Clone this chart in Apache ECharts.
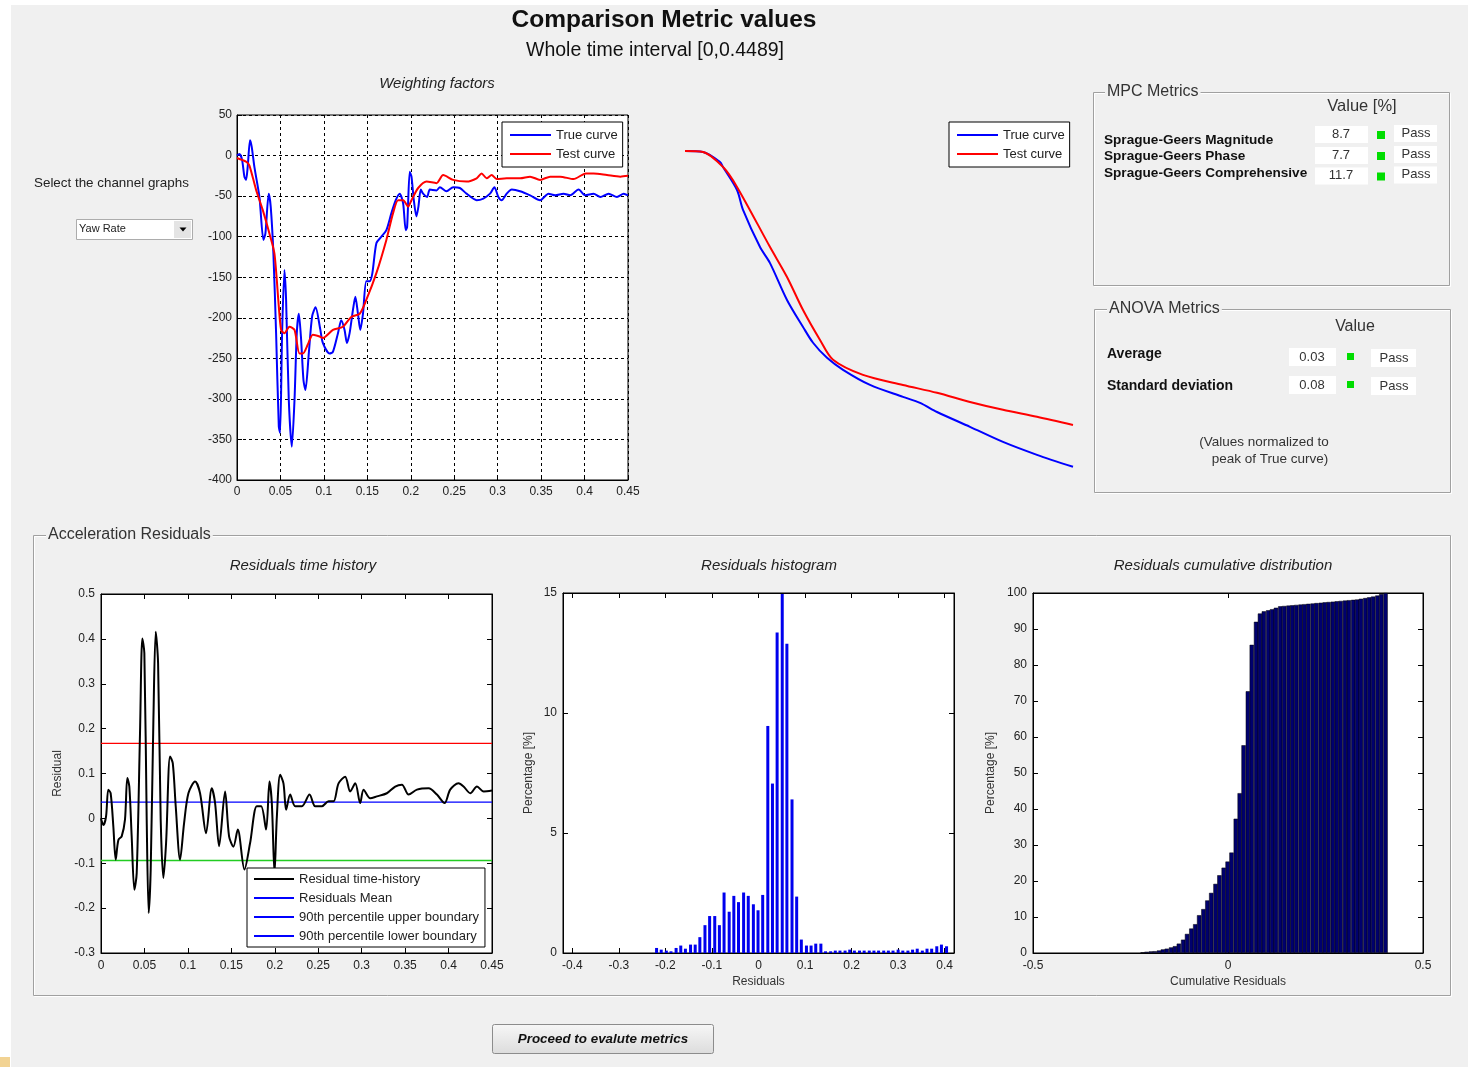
<!DOCTYPE html>
<html>
<head>
<meta charset="utf-8">
<script src="https://cdn.jsdelivr.net/npm/echarts@6/dist/echarts.min.js"></script>
<style>
html,body{margin:0;padding:0;background:#fff;}
#c{width:1468px;height:1067px;}
</style>
</head>
<body>
<div id="c"></div>
<script>
// ---------------- DATA ----------------
const timeTicksMax = 0.45;
// Yaw rate (Weighting factors chart): [time, value]
const trueCurve = [[0,0],[0.0027,2],[0.0058,-5],[0.0085,-26],[0.0104,-30],[0.0123,-14],[0.015,19],[0.0169,11],[0.02,-14],[0.0258,-51],[0.0304,-104],[0.0327,-96],[0.0365,-47],[0.0388,-63],[0.0419,-121],[0.045,-219],[0.0481,-334],[0.0496,-342],[0.0519,-219],[0.0546,-141],[0.0565,-178],[0.0596,-301],[0.0631,-359],[0.0662,-301],[0.0688,-219],[0.0712,-195],[0.0738,-227],[0.0765,-277],[0.0788,-289],[0.0827,-243],[0.0865,-198],[0.0904,-187],[0.0958,-214],[0.0988,-231],[0.1065,-244],[0.1104,-242],[0.1162,-219],[0.12,-203],[0.1238,-215],[0.1265,-231],[0.1296,-219],[0.1335,-190],[0.1362,-174],[0.1392,-195],[0.1419,-215],[0.145,-195],[0.1488,-155],[0.1527,-155],[0.1558,-145],[0.1604,-108],[0.1662,-100],[0.1719,-92],[0.1777,-71],[0.1827,-55],[0.1873,-47],[0.1912,-59],[0.1942,-92],[0.1958,-88],[0.1988,-20],[0.2008,-26],[0.2035,-55],[0.2065,-75],[0.2088,-63],[0.2115,-42],[0.2142,-47],[0.2188,-51],[0.2219,-42],[0.2296,-43],[0.2335,-39],[0.2412,-44],[0.2488,-39],[0.2565,-40],[0.2642,-47],[0.2758,-55],[0.2835,-53],[0.2912,-47],[0.2962,-39],[0.3008,-51],[0.3046,-55],[0.3104,-47],[0.3162,-42],[0.3258,-44],[0.3373,-49],[0.3488,-55],[0.3585,-47],[0.3662,-49],[0.3758,-47],[0.3835,-49],[0.3931,-42],[0.4008,-49],[0.4104,-47],[0.4181,-51],[0.4277,-47],[0.4373,-51],[0.445,-47],[0.45,-49]];
const testCurve = [[0,-3],[0.0104,-7.5],[0.0142,-12],[0.0219,-42],[0.0296,-67],[0.0373,-96],[0.0431,-121],[0.0481,-186],[0.0508,-215],[0.0546,-219],[0.0604,-211],[0.0662,-215],[0.0719,-244],[0.0758,-244],[0.0815,-233],[0.0873,-221],[0.095,-223],[0.0988,-225],[0.1104,-215],[0.1219,-211],[0.1315,-199],[0.1412,-195],[0.1488,-178],[0.1604,-145],[0.1719,-104],[0.1796,-71],[0.1854,-55],[0.1912,-55],[0.1969,-63],[0.2008,-55],[0.2085,-40],[0.2181,-32],[0.2296,-34],[0.2373,-24],[0.2488,-30],[0.2642,-32],[0.2758,-28],[0.2815,-22],[0.2873,-28],[0.2931,-24],[0.2988,-29],[0.3104,-28],[0.3258,-28],[0.3373,-26],[0.3488,-30],[0.3604,-26],[0.3719,-26],[0.3873,-29],[0.4015,-22],[0.4104,-22],[0.4258,-24],[0.4412,-26],[0.45,-25]];
// Integrated curves (unlabelled chart)
const trueIntegral = [[0,0],[0.0209,-0.3],[0.0406,-3.5],[0.0441,-5.1],[0.0603,-12.4],[0.0673,-18.7],[0.087,-30.5],[0.0986,-35.6],[0.1183,-47.3],[0.1369,-55.9],[0.1485,-60.9],[0.1647,-65.7],[0.1833,-69.5],[0.2146,-74.3],[0.2528,-78.1],[0.2726,-80.0],[0.2923,-82.9],[0.3305,-87.6],[0.3688,-92.4],[0.4082,-96.5],[0.45,-100.3]];
const testIntegral = [[0,0],[0.0209,-0.3],[0.0441,-5.1],[0.0603,-11.4],[0.0986,-30.5],[0.1183,-40],[0.1369,-50.5],[0.1566,-60],[0.1717,-66.3],[0.2064,-71.1],[0.2528,-74.3],[0.2923,-76.8],[0.3305,-79.7],[0.3688,-82.2],[0.4082,-84.4],[0.45,-87.0]];
// Residual time history
const residual = [[0,0.0],[0.0027,-0.015],[0.0058,0.004],[0.0084,0.064],[0.0111,0.056],[0.0142,-0.018],[0.0169,-0.092],[0.02,-0.048],[0.0238,-0.04],[0.0276,-0.003],[0.0303,0.09],[0.0326,0.071],[0.0353,-0.04],[0.0384,-0.159],[0.0411,-0.122],[0.0449,0.19],[0.0476,0.401],[0.0499,0.368],[0.0526,-0.003],[0.0549,-0.211],[0.0572,-0.114],[0.0603,0.219],[0.063,0.416],[0.0657,0.346],[0.0687,-0.003],[0.0718,-0.133],[0.0749,-0.055],[0.0795,0.138],[0.0826,0.123],[0.086,0.027],[0.091,-0.092],[0.0956,-0.011],[0.1006,0.056],[0.1083,0.082],[0.114,0.056],[0.1209,-0.033],[0.1275,0.067],[0.1313,0.034],[0.1359,-0.062],[0.1428,0.06],[0.1474,-0.04],[0.1524,-0.063],[0.1574,-0.025],[0.1651,-0.114],[0.1716,-0.055],[0.1793,0.027],[0.1843,0.027],[0.19,-0.025],[0.1939,0.082],[0.1966,0.034],[0.1997,-0.122],[0.2024,0.004],[0.2062,0.097],[0.21,0.078],[0.2131,0.019],[0.2177,0.053],[0.2235,0.027],[0.2312,0.027],[0.24,0.053],[0.2465,0.027],[0.2542,0.027],[0.2619,0.038],[0.2676,0.038],[0.2734,0.078],[0.281,0.093],[0.2868,0.06],[0.2926,0.078],[0.2983,0.034],[0.3022,0.064],[0.3098,0.045],[0.3175,0.049],[0.329,0.056],[0.3386,0.071],[0.3463,0.075],[0.354,0.053],[0.3636,0.064],[0.377,0.067],[0.3866,0.053],[0.3954,0.034],[0.4019,0.064],[0.4115,0.078],[0.4173,0.071],[0.425,0.056],[0.4327,0.071],[0.4404,0.06],[0.45,0.062]];
const residualMean = 0.036;
const upperBoundary = 0.167;
const lowerBoundary = -0.094;
// Histogram
const binCenters = [-0.219,-0.209,-0.198,-0.188,-0.177,-0.167,-0.157,-0.146,-0.136,-0.126,-0.115,-0.105,-0.094,-0.084,-0.074,-0.063,-0.053,-0.043,-0.032,-0.022,-0.011,-0.001,0.009,0.020,0.030,0.040,0.051,0.061,0.072,0.082,0.092,0.103,0.113,0.123,0.134,0.144,0.155,0.165,0.175,0.186,0.196,0.206,0.217,0.227,0.238,0.248,0.258,0.269,0.279,0.289,0.300,0.310,0.321,0.331,0.341,0.352,0.362,0.372,0.383,0.393,0.404];
const histPercent = [0.21,0.14,0.10,0.07,0.21,0.31,0.18,0.35,0.35,0.66,1.16,1.54,1.54,1.16,2.52,1.72,2.38,2.12,2.52,2.38,2.03,1.78,2.42,9.46,7.06,13.35,14.96,12.89,6.40,2.35,0.56,0.31,0.31,0.39,0.39,0.07,0.07,0.10,0.10,0.10,0.14,0.10,0.10,0.10,0.10,0.10,0.10,0.10,0.10,0.10,0.14,0.10,0.10,0.14,0.18,0.10,0.18,0.18,0.28,0.35,0.28];
const cumPercent = [0.2,0.35,0.45,0.5,0.7,1.0,1.2,1.55,1.9,2.6,3.7,5.3,6.8,8.0,10.5,12.2,14.6,16.7,19.2,21.6,23.7,25.4,27.9,37.3,44.4,57.7,72.7,85.6,92.0,94.3,94.9,95.2,95.5,95.9,96.3,96.4,96.5,96.6,96.7,96.8,96.9,97.0,97.1,97.2,97.3,97.4,97.5,97.6,97.7,97.8,97.9,98.0,98.1,98.2,98.4,98.6,98.8,99.0,99.3,99.7,100];
const histTicks = [-0.4,-0.3,-0.2,-0.1,0,0.1,0.2,0.3,0.4];
// Metrics tables
const mpcNames = ['Sprague-Geers Magnitude','Sprague-Geers Phase','Sprague-Geers Comprehensive'];
const mpcValues = ['8.7','7.7','11.7'];
const mpcStatus = ['Pass','Pass','Pass'];
const anovaNames = ['Average','Standard deviation'];
const anovaValues = ['0.03','0.08'];
const anovaStatus = ['Pass','Pass'];

// ---------------- LAYOUT HELPERS ----------------
const FF = '"Liberation Sans", Arial, sans-serif';
const G = [];
function txt(x,y,text,font,opt){
  opt = opt||{};
  const st = {text:text, font:font+' '+FF, fill:opt.fill||'#222',
    align:opt.align||'left', textAlign:opt.align||'left',
    verticalAlign:'middle', textVerticalAlign:'middle'};
  if(opt.bg){st.backgroundColor=opt.bg; st.padding=opt.pad||[0,3];}
  G.push({type:'text', x:x, y:y, z:20, style:st});
}
function rect(x,y,w,h,fill,stroke,z,r){
  G.push({type:'rect', z:z||10, shape:{x:x,y:y,width:w,height:h,r:r||0}, style:{fill:fill||'none', stroke:stroke||null, lineWidth:1}});
}
function panel(x,y,w,h,label,lx){
  rect(x+1.5,y+1.5,w,h,null,'#ffffff',5);
  rect(x+0.5,y+0.5,w,h,null,'#a0a0a0',6);
  txt(lx,y,label,'16px',{fill:'#333',bg:'#f0f0f0',pad:[0,2]});
}
// page frame
rect(0,0,11,1067,'#ffffff',null,1);
rect(0,0,1468,5,'#ffffff',null,1);
rect(0,1057,10,10,'#f2d393',null,2);
// titles
txt(664,20,'Comparison Metric values','bold 24.5px',{align:'center',fill:'#111'});
txt(655,51,'Whole time interval [0,0.4489]','19.5px',{align:'center',fill:'#111'});
txt(437,84,'Weighting factors','italic 15px',{align:'center'});
// channel selector
txt(34,183,'Select the channel graphs','13.4px');
rect(76.5,219.5,116,20,'#ffffff','#acacac');
rect(174,221,17,17,'#e4e4e4',null,11);
G.push({type:'polygon', z:12, shape:{points:[[179.5,227.5],[186.5,227.5],[183,231.5]]}, style:{fill:'#000'}});
txt(79,229,'Yaw Rate','11px');
// MPC panel
panel(1093,92,356,193,'MPC Metrics',1105);
txt(1362,106,'Value [%]','16.5px',{align:'center',fill:'#333'});
const mpcRowY = [134,155,175.5];
const mpcLabelY = [140,156,173];
mpcNames.forEach((n,i)=>{
  const y = mpcRowY[i];
  txt(1104,mpcLabelY[i],n,'bold 13.6px',{fill:'#111'});
  rect(1315,y-8,53,17,'#ffffff',null,10);
  txt(1341,y,mpcValues[i],'13px',{align:'center',fill:'#333'});
  rect(1377,y-3,8,8,'#00dd00',null,10);
  rect(1394,y-9,43,17,'#ffffff',null,10);
  txt(1416,y-1,mpcStatus[i],'13px',{align:'center',fill:'#333'});
});
// ANOVA panel
panel(1094,309,356,183,'ANOVA Metrics',1107);
txt(1355,327,'Value','16px',{align:'center',fill:'#333'});
const anRowY = [357,385];
const anLabelY = [354,386];
anovaNames.forEach((n,i)=>{
  const y = anRowY[i];
  txt(1107,anLabelY[i],n,'bold 14px',{fill:'#111'});
  rect(1289,y-9,47,18,'#ffffff',null,10);
  txt(1312,y,anovaValues[i],'13px',{align:'center',fill:'#333'});
  rect(1347,y-4,7,7,'#00dd00',null,10);
  rect(1371,y-8,45,18,'#ffffff',null,10);
  txt(1394,y+1,anovaStatus[i],'13px',{align:'center',fill:'#333'});
});
txt(1264,442,'(Values normalized to','13.5px',{align:'center',fill:'#333'});
txt(1270,459,'peak of True curve)','13.5px',{align:'center',fill:'#333'});
// residual panel
panel(33,535,1417,460,'Acceleration Residuals',46);
txt(303,566,'Residuals time history','italic 15px',{align:'center'});
txt(769,566,'Residuals histogram','italic 15px',{align:'center'});
txt(1223,566,'Residuals cumulative distribution','italic 15px',{align:'center'});
// button
G.push({type:'rect', z:10, shape:{x:492.5,y:1024.5,width:221,height:29,r:2},
  style:{fill:new echarts.graphic.LinearGradient(0,0,0,1,[{offset:0,color:'#f7f7f7'},{offset:1,color:'#dcdcdc'}]), stroke:'#8c8c8c', lineWidth:1}});
txt(603,1039,'Proceed to evalute metrics','italic bold 13.4px',{align:'center',fill:'#111'});

// ---------------- AXES ----------------
const lblStyle = {color:'#222', fontSize:12, fontFamily:FF};
function gridCfg(l,t,w,h,show){
  return {left:l, top:t, width:w, height:h, show:show, backgroundColor:'#ffffff', borderColor:'#000', borderWidth:1, outerBoundsMode:'none', containLabel:false};
}
function vAxis(grid, min, max, interval, extra){
  return Object.assign({type:'value', gridIndex:grid, min:min, max:max, interval:interval,
    axisLine:{show:true, onZero:false, lineStyle:{color:'#000', width:1}},
    axisTick:{show:true, inside:true, length:5, lineStyle:{color:'#000'}},
    axisLabel:Object.assign({margin:6}, lblStyle),
    splitLine:{show:false}}, extra||{});
}
const dashed = {show:true, lineStyle:{color:'#000', type:[3,3], width:1}};
const nameStyle = {color:'#333', fontSize:12, fontFamily:FF};

const xAxes = [
  vAxis(0,0,timeTicksMax,0.05,{splitLine:dashed, axisLabel:Object.assign({margin:6},lblStyle)}),
  {type:'value', gridIndex:1, min:0, max:timeTicksMax, show:false},
  vAxis(2,0,timeTicksMax,0.05,{axisLabel:Object.assign({margin:7},lblStyle)}),
  vAxis(3,-0.42,0.42,0.1,{axisTick:{show:true,inside:true,length:5,lineStyle:{color:'#000'},customValues:histTicks},
     axisLabel:Object.assign({margin:7,customValues:histTicks},lblStyle),
     name:'Residuals', nameLocation:'middle', nameGap:23, nameTextStyle:nameStyle}),
  vAxis(4,-0.5,0.5,0.5,{axisLabel:Object.assign({margin:7},lblStyle),
     name:'Cumulative Residuals', nameLocation:'middle', nameGap:23, nameTextStyle:nameStyle}),
  vAxis(2,0,timeTicksMax,0.05,{position:'top', axisLabel:{show:false}}),
  vAxis(3,-0.42,0.42,0.1,{position:'top', axisLabel:{show:false}, axisTick:{show:true,inside:true,length:5,lineStyle:{color:'#000'},customValues:histTicks}}),
  vAxis(4,-0.5,0.5,0.5,{position:'top', axisLabel:{show:false}})
];
const yAxes = [
  vAxis(0,-400,50,50,{splitLine:dashed, axisLabel:Object.assign({margin:5},lblStyle)}),
  {type:'value', gridIndex:1, min:-101, max:0, show:false},
  vAxis(2,-0.3,0.5,0.1,{name:'Residual', nameLocation:'middle', nameGap:37, nameRotate:90, nameTextStyle:nameStyle}),
  vAxis(3,0,15,5,{name:'Percentage [%]', nameLocation:'middle', nameGap:28, nameRotate:90, nameTextStyle:nameStyle}),
  vAxis(4,0,100,10,{name:'Percentage [%]', nameLocation:'middle', nameGap:36, nameRotate:90, nameTextStyle:nameStyle}),
  vAxis(2,-0.3,0.5,0.1,{position:'right', axisLabel:{show:false}}),
  vAxis(3,0,15,5,{position:'right', axisLabel:{show:false}}),
  vAxis(4,0,100,10,{position:'right', axisLabel:{show:false}})
];

function pairs(xs, ys){ return xs.map((x,i)=>[x, ys[i]]); }
const tMin = 0, tMax = timeTicksMax;

const legendText = {fontSize:13, color:'#222', fontFamily:FF, lineHeight:14};
function legendCfg(left, top, pad, w, data){
  return {left:left, top:top, orient:'vertical', padding:pad, itemGap:5, itemWidth:w, itemHeight:2, icon:'rect',
    selectedMode:false, backgroundColor:'#fff', borderColor:'#000', borderWidth:1, borderRadius:0,
    textStyle:legendText, data:data};
}
const option = {
  backgroundColor:'#f0f0f0',
  animation:false,
  textStyle:{fontFamily:FF},
  grid:[gridCfg(237,115,391,365,true), gridCfg(685,151,388,318,false), gridCfg(101,594,391,359,true), gridCfg(563,593,391,360,true), gridCfg(1033,593,390,360,true)],
  xAxis:xAxes,
  yAxis:yAxes,
  legend:[
    legendCfg(502,122,[6,5,6,8],41,['True curve','Test curve']),
    legendCfg(949,122,[6,5,6,8],41,['True curve','Test curve']),
    legendCfg(247,868,[4,6,4,7],40,['Residual time-history','Residuals Mean',
           {name:'90th percentile upper boundary', itemStyle:{color:'#0000ff'}},
           {name:'90th percentile lower boundary', itemStyle:{color:'#0000ff'}}])
  ],
  graphic:{elements:G},
  series:[
    {name:'True curve', type:'line', xAxisIndex:0, yAxisIndex:0, data:trueCurve, showSymbol:false, symbol:'none', smooth:0.25, lineStyle:{color:'#0000ff', width:2}, itemStyle:{color:'#0000ff'}, z:3},
    {name:'Test curve', type:'line', xAxisIndex:0, yAxisIndex:0, data:testCurve, showSymbol:false, symbol:'none', smooth:0.25, lineStyle:{color:'#ff0000', width:2}, itemStyle:{color:'#ff0000'}, z:4},
    {name:'True curve', type:'line', xAxisIndex:1, yAxisIndex:1, data:trueIntegral, showSymbol:false, symbol:'none', smooth:0.3, lineStyle:{color:'#0000ff', width:2}, itemStyle:{color:'#0000ff'}, z:3},
    {name:'Test curve', type:'line', xAxisIndex:1, yAxisIndex:1, data:testIntegral, showSymbol:false, symbol:'none', smooth:0.3, lineStyle:{color:'#ff0000', width:2}, itemStyle:{color:'#ff0000'}, z:4},
    {name:'90th percentile upper boundary', type:'line', xAxisIndex:2, yAxisIndex:2, data:[[tMin,upperBoundary],[tMax,upperBoundary]], symbol:'none', lineStyle:{color:'#ff0000', width:1.2}, itemStyle:{color:'#ff0000'}, z:2},
    {name:'Residuals Mean', type:'line', xAxisIndex:2, yAxisIndex:2, data:[[tMin,residualMean],[tMax,residualMean]], symbol:'none', lineStyle:{color:'#0000ff', width:1.2}, itemStyle:{color:'#0000ff'}, z:2},
    {name:'90th percentile lower boundary', type:'line', xAxisIndex:2, yAxisIndex:2, data:[[tMin,lowerBoundary],[tMax,lowerBoundary]], symbol:'none', lineStyle:{color:'#22cc22', width:1.5}, itemStyle:{color:'#22cc22'}, z:2},
    {name:'Residual time-history', type:'line', xAxisIndex:2, yAxisIndex:2, data:residual, showSymbol:false, symbol:'none', smooth:0.3, lineStyle:{color:'#000', width:2}, itemStyle:{color:'#000'}, z:3},
    {name:'Histogram', type:'bar', xAxisIndex:3, yAxisIndex:3, data:pairs(binCenters, histPercent), barWidth:3, itemStyle:{color:'#0000ee'}},
    {name:'Cumulative', type:'bar', xAxisIndex:4, yAxisIndex:4, data:pairs(binCenters, cumPercent), barWidth:4.3, itemStyle:{color:'#00006e', borderColor:'#000', borderWidth:0.5}}
  ]
};
const chart = echarts.init(document.getElementById('c'), null, {renderer:'canvas'});
chart.setOption(option);
</script>
</body>
</html>
